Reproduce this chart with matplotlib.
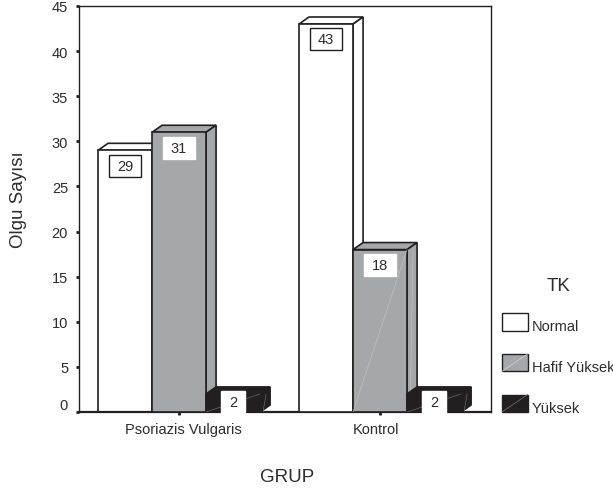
import matplotlib
matplotlib.use('Agg')
import matplotlib.pyplot as plt
from matplotlib.legend_handler import HandlerPatch
from matplotlib.lines import Line2D
from matplotlib.patches import Patch, Polygon, Rectangle
from matplotlib.path import Path
from matplotlib.transforms import ScaledTranslation

plt.rcParams['font.family'] = ['Liberation Sans', 'DejaVu Sans']

groups = ['Psoriazis Vulgaris', 'Kontrol']
series = ['Normal', 'Hafif Yüksek', 'Yüksek']
normal = [29, 43]
hafif = [31, 18]
yuksek = [2, 2]
yticks = [0, 5, 10, 15, 20, 25, 30, 35, 40, 45]

INK = '#231f20'
TEXT = '#2e2c2d'
GREY = '#a5a8aa'
colours = ['white', GREY, INK]
streaks = [None, '#c4c6c7', '#77787a']

bar_w = 0.2687
dx = 0.05    # depth of the fake 3d
dy = 0.78


def label_box(x0, y0, w, h, mutation_size):
    # fixed height box, wider than the text on both sides
    cx = x0 + w / 2
    cy = y0 + h / 2
    hw = w / 2 + 0.53 * mutation_size
    hh = 0.76 * mutation_size
    return Path([(cx - hw, cy - hh), (cx + hw, cy - hh), (cx + hw, cy + hh), (cx - hw, cy + hh), (cx - hw, cy - hh)],
                closed=True)


def draw_bar(ax, x, h, colour, streak, z):
    left = x - bar_w / 2
    right = x + bar_w / 2
    top_face = [(left, h), (left + dx, h + dy), (right + dx, h + dy), (right, h)]
    side_face = [(right, 0), (right + dx, dy), (right + dx, h + dy), (right, h)]
    for pts in (top_face, side_face):
        ax.add_patch(Polygon(pts, facecolor=colour, edgecolor=INK, lw=1.2, zorder=z))
    ax.add_patch(Rectangle((left, 0), bar_w, h, facecolor=colour, edgecolor=INK, lw=1.2, zorder=z))
    if streak:
        # thin light diagonal the original renderer left on filled bars
        ax.plot([left, right], [0, h], color=streak, lw=0.4, zorder=z + 0.1)
        ax.plot([right + dx * 0.3, right + dx * 0.6], [0, h], color=streak, lw=0.4, zorder=z + 0.1)


class SwatchHandler(HandlerPatch):
    def create_artists(self, legend, orig, xdescent, ydescent, width, height, fontsize, trans):
        lift = 2.5
        rect = Rectangle((-xdescent, -ydescent + lift), width, height,
                         facecolor=orig.get_facecolor(), edgecolor=INK, lw=1.0, transform=trans)
        arts = [rect]
        if orig.get_facecolor()[:3] != (1.0, 1.0, 1.0):
            line_col = '#d4d6d7' if orig.get_label() == 'Hafif Yüksek' else '#77787a'
            arts.append(Line2D([-xdescent, -xdescent + width], [-ydescent + lift, -ydescent + lift + height],
                               color=line_col, lw=0.5, transform=trans))
        return arts


fig = plt.figure(figsize=(6.13, 4.89), dpi=100)
ax = fig.add_axes([78.5 / 613, 76 / 489, 412.5 / 613, 406 / 489])

z = 2
for g in range(len(groups)):
    for s, vals in enumerate([normal, hafif, yuksek]):
        x = g + (s - 1) * bar_w
        v = vals[g]
        # no streak shows on the first grey bar
        streak = None if (g == 0 and s == 1) else streaks[s]
        draw_bar(ax, x, v, colours[s], streak, z)
        # boxes sit under the front top edge, small bars get them lower
        off = -11 if v > 5 else -5.6
        edge = INK if s == 0 else 'white'
        ax.annotate(str(v), (x, v), xytext=(0, off), textcoords='offset points',
                    ha='center', va='center', fontsize=10.5, color=TEXT, zorder=z + 0.5,
                    bbox=dict(boxstyle=label_box, facecolor='white', edgecolor=edge, lw=1.0))
        z += 1

ax.set_xlim(-0.5, 1.552)
ax.set_ylim(0, 45)
ax.set_xticks(range(len(groups)))
ax.set_xticklabels(groups)
ax.set_yticks(yticks)
ax.get_yticklabels()[0].set_verticalalignment('bottom')
ax.tick_params(axis='both', length=2, width=2, color=INK, labelcolor=TEXT, labelsize=10.5)
ax.tick_params(axis='y', pad=5.5)
ax.tick_params(axis='x', pad=5)
# the group labels are not quite centred on their ticks in the original
for lab, shift in zip(ax.get_xticklabels(), [3, -3]):
    lab.set_transform(lab.get_transform() + ScaledTranslation(shift / 72, 0, fig.dpi_scale_trans))
for sp in ax.spines.values():
    sp.set_linewidth(1.0)
    sp.set_color(INK)
ax.spines['bottom'].set_linewidth(1.6)

ax.set_xlabel('GRUP', fontsize=13.5, color=TEXT)
ax.set_ylabel('Olgu Sayısı', fontsize=13.5, color=TEXT)
ax.xaxis.set_label_coords(0.505, -0.158)
ax.yaxis.set_label_coords(-0.145, 0.525)
# xlabel/ylabel centred on the coords given
ax.xaxis.label.set_verticalalignment('center')
ax.yaxis.label.set_verticalalignment('center')

handles = [Patch(facecolor=c, label=n) for c, n in zip(colours, series)]
leg = ax.legend(handles=handles, title='TK', frameon=False, fontsize=10.5, title_fontsize=13.5,
                loc='upper left', bbox_to_anchor=(1.027, 0.333), borderaxespad=0, borderpad=0,
                handlelength=1.75, handleheight=1.45, handletextpad=0.27, labelspacing=1.6,
                handler_map={Patch: SwatchHandler()})
leg._legend_box.sep = 16.5
leg.get_title().set_color(TEXT)
for t in leg.get_texts():
    t.set_color(TEXT)
leg.set_clip_on(False)

fig.savefig('out.png', dpi=100)
